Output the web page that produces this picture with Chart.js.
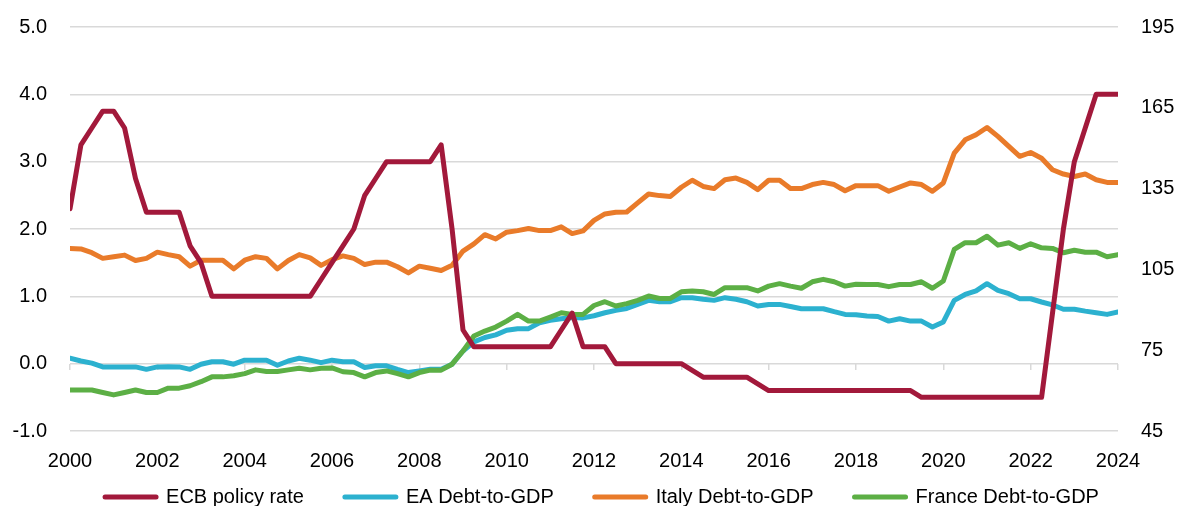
<!DOCTYPE html>
<html>
<head>
<meta charset="utf-8">
<script src="https://cdn.jsdelivr.net/npm/chart.js@4.4.1/dist/chart.umd.min.js"></script>
<style>
  html, body { margin: 0; padding: 0; overflow: hidden; background: #fff; width: 1178px; height: 506px; }
  #wrap { position: absolute; left: 0; top: 0; width: 1178px; height: 517px; }
</style>
</head>
<body>
<div id="wrap"><canvas id="c" width="1178" height="517"></canvas></div>
<script>
// Quarterly data, 2000Q1 .. 2024Q1
const startYear = 2000;

const ecbRate = [
  2.3, 3.25, 3.5, 3.75, 3.75, 3.5, 2.75, 2.25, 2.25, 2.25, 2.25, 1.75, 1.5, 1.0,
  1.0, 1.0, 1.0, 1.0, 1.0, 1.0, 1.0, 1.0, 1.0,
  1.25, 1.5, 1.75, 2.0, 2.5, 2.75, 3.0, 3.0, 3.0, 3.0, 3.0, 3.25,
  2.0, 0.5,
  0.25, 0.25, 0.25, 0.25, 0.25, 0.25, 0.25, 0.25,
  0.5, 0.75, 0.25, 0.25, 0.25,
  0, 0, 0, 0, 0, 0, 0,
  -0.1,
  -0.2, -0.2, -0.2, -0.2, -0.2,
  -0.3,
  -0.4, -0.4, -0.4, -0.4, -0.4, -0.4, -0.4, -0.4, -0.4, -0.4, -0.4, -0.4, -0.4, -0.4,
  -0.5, -0.5, -0.5, -0.5, -0.5, -0.5, -0.5, -0.5, -0.5, -0.5, -0.5, -0.5,
  0.75, 2.0, 3.0, 3.5, 4.0, 4.0, 4.0
];

const eaDebt = [
  72.0, 71.0, 70.2, 68.8, 68.8, 68.8, 68.8, 67.9, 68.8, 68.9, 68.8, 67.9, 69.8, 70.7, 70.7, 69.8,
  71.3, 71.3, 71.3, 69.4, 71.0, 72.0, 71.3, 70.4, 71.3, 70.7, 70.7, 68.6, 69.2, 69.2, 67.9, 66.7,
  67.3, 67.9, 67.9, 69.8, 74.7, 78.1, 79.7, 80.7, 82.4, 83.0, 83.0, 85.2, 86.1, 86.7, 87.1, 87.0,
  87.8, 88.9, 89.8, 90.5, 92.0, 93.5, 93.0, 93.0, 94.5, 94.5, 93.9, 93.5, 94.5, 93.9, 93.0, 91.4,
  92.0, 92.0, 91.2, 90.4, 90.4, 90.4, 89.3, 88.3, 88.2, 87.7, 87.5, 85.8, 86.7, 85.8, 85.8, 83.6,
  85.5, 93.5, 95.7, 97.0, 99.7, 97.2, 96.0, 94.1, 94.1, 92.9, 91.8, 90.2, 90.2, 89.5, 88.9, 88.3,
  89.2
];

const italyDebt = [
  112.8, 112.6, 111.2, 109.1, 109.7, 110.3, 108.3, 109.1, 111.4, 110.5, 109.7, 106.2, 108.4, 108.4, 108.4, 105.2,
  108.4, 109.7, 109.1, 105.2, 108.3, 110.5, 109.3, 106.5, 108.6, 110.0, 109.1, 106.8, 107.7, 107.7, 106.0, 103.7,
  106.2, 105.4, 104.6, 106.5, 111.8, 114.5, 117.9, 116.3, 118.8, 119.4, 120.2, 119.4, 119.4, 120.8, 118.3, 119.3,
  123.2, 125.6, 126.2, 126.3, 129.7, 133.0, 132.4, 132.1, 135.5, 138.1, 135.8, 135.0, 138.3, 138.9, 137.3, 134.6,
  138.1, 138.1, 135.0, 135.0, 136.5, 137.3, 136.5, 134.2, 136.1, 136.1, 136.1, 134.0, 135.6, 137.1, 136.5, 134.0,
  137.1, 148.2, 153.1, 155.0, 157.7, 154.4, 150.7, 147.0, 148.4, 146.3, 142.0, 140.4, 139.5, 140.4, 138.3, 137.3,
  137.3
];

const franceDebt = [
  60.2, 60.2, 60.2, 59.3, 58.4, 59.3, 60.2, 59.3, 59.3, 60.9, 60.9, 61.8, 63.3, 65.1, 65.1, 65.5,
  66.3, 67.7, 67.1, 67.1, 67.7, 68.3, 67.7, 68.3, 68.4, 67.0, 66.7, 65.1, 66.7, 67.3, 66.3, 65.1,
  66.7, 67.6, 67.6, 69.8, 74.7, 80.3, 82.1, 83.6, 85.8, 88.3, 85.8, 85.8, 87.3, 88.9, 88.3, 88.3,
  91.6, 93.0, 91.4, 92.3, 93.5, 95.1, 94.2, 94.2, 96.7, 97.0, 96.7, 95.7, 98.2, 98.2, 98.2, 97.0,
  98.8, 99.7, 98.8, 98.0, 100.4, 101.3, 100.4, 98.8, 99.5, 99.4, 99.4, 98.6, 99.4, 99.4, 100.4, 98.0,
  100.7, 112.4, 114.9, 114.9, 117.3, 114.0, 114.9, 112.8, 114.5, 113.0, 112.8, 111.2, 112.1, 111.4, 111.4, 109.7,
  110.5
];

const xTickYears = [2000, 2002, 2004, 2006, 2008, 2010, 2012, 2014, 2016, 2018, 2020, 2022, 2024];
const leftTicks = [-1, 0, 1, 2, 3, 4, 5];
const rightTicks = [45, 75, 105, 135, 165, 195];

const seriesLabels = ['ECB policy rate', 'EA Debt-to-GDP', 'Italy Debt-to-GDP', 'France Debt-to-GDP'];
const seriesColors = ['#A2193B', '#2CB1CF', '#E97B2A', '#5CAF45'];

// position of each quarter on the time axis (category positions)
const quarterPos = ecbRate.map((_, i) => startYear + i / 4);
const toPoints = arr => arr.map((v, i) => ({ x: quarterPos[i], y: v }));
const setTicks = list => scale => { scale.ticks = list.map(v => ({ value: v })); };

Chart.defaults.font.family = "'Liberation Sans', Arial, sans-serif";
Chart.defaults.font.size = 20;
Chart.defaults.color = '#000';

const ds = (i, data, axis, order) => ({
  label: seriesLabels[i],
  data: toPoints(data),
  yAxisID: axis,
  borderColor: seriesColors[i],
  backgroundColor: seriesColors[i],
  order: order
});

new Chart(document.getElementById('c'), {
  type: 'line',
  data: {
    datasets: [
      ds(0, ecbRate, 'y', 0),
      ds(1, eaDebt, 'y1', 3),
      ds(2, italyDebt, 'y1', 2),
      ds(3, franceDebt, 'y1', 1)
    ]
  },
  options: {
    responsive: false,
    animation: false,
    devicePixelRatio: 1,
    layout: { padding: { left: 12, right: -14, top: 27, bottom: 0 } },
    elements: {
      line: { borderWidth: 5, tension: 0, borderCapStyle: 'round', borderJoinStyle: 'round', fill: false },
      point: { radius: 0, hoverRadius: 0 }
    },
    plugins: {
      legend: {
        position: 'bottom',
        title: { display: true, text: '', padding: 0, font: { size: 10, lineHeight: 1.5 } },
        labels: {
          boxWidth: 51, boxHeight: 0, padding: 41, color: '#000',
          font: { size: 20 },
          sort: (a, b) => a.datasetIndex - b.datasetIndex
        }
      },
      tooltip: { enabled: false }
    },
    scales: {
      x: {
        type: 'linear', position: { y: -1 }, min: 2000, max: 2024,
        afterBuildTicks: setTicks(xTickYears),
        grid: { display: false, drawTicks: false },
        border: { display: false },
        ticks: { padding: 18, maxRotation: 0, autoSkip: false, callback: v => String(v) }
      },
      x2: {
        type: 'linear', axis: 'x', position: { y: 0 }, min: 2000, max: 2024,
        afterBuildTicks: setTicks(xTickYears),
        ticks: { display: false },
        grid: { display: true, drawOnChartArea: false, drawTicks: true, tickLength: 6, color: '#d9d9d9', lineWidth: 1.5 },
        border: { display: false }
      },
      y: {
        position: 'left', min: -1, max: 5,
        afterBuildTicks: setTicks(leftTicks),
        ticks: { padding: 0, callback: v => v.toFixed(1) },
        grid: { color: '#d9d9d9', lineWidth: 1.5, drawTicks: true, tickLength: 23, tickColor: 'rgba(0,0,0,0)' },
        border: { display: false },
        afterFit: s => { s.width = 58; }
      },
      y1: {
        position: 'right', min: 45, max: 195,
        afterBuildTicks: setTicks(rightTicks),
        ticks: { padding: 0, callback: v => String(v) },
        grid: { display: true, drawOnChartArea: false, drawTicks: true, tickLength: 23, tickColor: 'rgba(0,0,0,0)' },
        border: { display: false },
        afterFit: s => { s.width = 74; }
      }
    }
  }
});
</script>
</body>
</html>
